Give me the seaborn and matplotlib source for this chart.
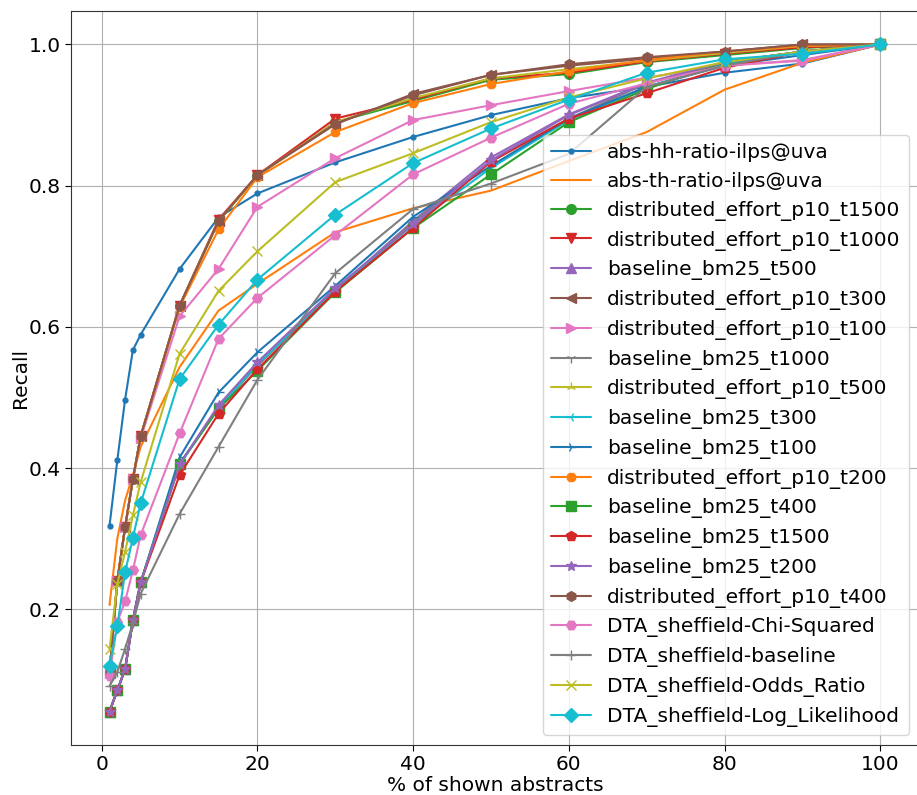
import matplotlib
matplotlib.use("Agg")
import matplotlib.pyplot as plt
import seaborn as sns
import pandas as pd

# ---- data ----
pct_shown = [1, 2, 3, 4, 5, 10, 15, 20, 30, 40, 50, 60, 70, 80, 90, 100]

series_names = [
    "abs-hh-ratio-ilps@uva",
    "abs-th-ratio-ilps@uva",
    "distributed_effort_p10_t1500",
    "distributed_effort_p10_t1000",
    "baseline_bm25_t500",
    "distributed_effort_p10_t300",
    "distributed_effort_p10_t100",
    "baseline_bm25_t1000",
    "distributed_effort_p10_t500",
    "baseline_bm25_t300",
    "baseline_bm25_t100",
    "distributed_effort_p10_t200",
    "baseline_bm25_t400",
    "baseline_bm25_t1500",
    "baseline_bm25_t200",
    "distributed_effort_p10_t400",
    "DTA_sheffield-Chi-Squared",
    "DTA_sheffield-baseline",
    "DTA_sheffield-Odds_Ratio",
    "DTA_sheffield-Log_Likelihood",
]

abs_hh_ratio = [0.318, 0.411, 0.497, 0.567, 0.589, 0.682, 0.755, 0.789, 0.833, 0.869, 0.900, 0.924, 0.940, 0.960, 0.973, 1.0]
abs_th_ratio = [0.206, 0.300, 0.354, 0.390, 0.430, 0.543, 0.623, 0.661, 0.734, 0.768, 0.793, 0.835, 0.876, 0.936, 0.974, 1.0]
de_t1500 = [0.110, 0.240, 0.316, 0.384, 0.445, 0.630, 0.750, 0.814, 0.890, 0.920, 0.950, 0.958, 0.975, 0.985, 0.995, 1.0]
de_t1000 = [0.110, 0.240, 0.316, 0.384, 0.445, 0.630, 0.752, 0.815, 0.895, 0.922, 0.952, 0.960, 0.976, 0.987, 0.996, 1.0]
bm25_t500 = [0.055, 0.085, 0.115, 0.184, 0.238, 0.406, 0.487, 0.548, 0.652, 0.750, 0.840, 0.901, 0.946, 0.975, 0.990, 1.0]
de_t300 = [0.110, 0.240, 0.316, 0.384, 0.445, 0.630, 0.750, 0.815, 0.887, 0.930, 0.957, 0.970, 0.980, 0.990, 1.000, 1.0]
de_t100 = [0.110, 0.240, 0.316, 0.384, 0.442, 0.615, 0.682, 0.770, 0.839, 0.893, 0.914, 0.934, 0.953, 0.970, 0.978, 1.0]
bm25_t1000 = [0.055, 0.085, 0.115, 0.184, 0.238, 0.405, 0.485, 0.545, 0.652, 0.748, 0.835, 0.895, 0.945, 0.975, 0.990, 1.0]
de_t500 = [0.110, 0.240, 0.316, 0.384, 0.445, 0.630, 0.750, 0.814, 0.890, 0.924, 0.952, 0.965, 0.977, 0.988, 0.998, 1.0]
bm25_t300 = [0.055, 0.085, 0.115, 0.184, 0.238, 0.405, 0.485, 0.547, 0.650, 0.745, 0.825, 0.893, 0.940, 0.972, 0.990, 1.0]
bm25_t100 = [0.055, 0.085, 0.115, 0.184, 0.238, 0.415, 0.507, 0.564, 0.658, 0.756, 0.828, 0.895, 0.940, 0.970, 0.985, 1.0]
de_t200 = [0.110, 0.240, 0.316, 0.384, 0.445, 0.628, 0.738, 0.812, 0.876, 0.917, 0.944, 0.962, 0.978, 0.990, 0.998, 1.0]
bm25_t400 = [0.055, 0.085, 0.115, 0.184, 0.238, 0.406, 0.484, 0.538, 0.649, 0.740, 0.816, 0.890, 0.937, 0.975, 0.990, 1.0]
bm25_t1500 = [0.055, 0.085, 0.115, 0.184, 0.238, 0.390, 0.477, 0.540, 0.650, 0.740, 0.834, 0.895, 0.931, 0.967, 0.990, 1.0]
bm25_t200 = [0.055, 0.085, 0.115, 0.184, 0.238, 0.405, 0.489, 0.550, 0.655, 0.745, 0.836, 0.900, 0.945, 0.975, 0.990, 1.0]
de_t400 = [0.110, 0.240, 0.316, 0.384, 0.445, 0.630, 0.750, 0.815, 0.888, 0.928, 0.957, 0.972, 0.982, 0.990, 1.000, 1.0]
dta_chi_squared = [0.106, 0.182, 0.211, 0.255, 0.305, 0.449, 0.583, 0.641, 0.730, 0.816, 0.868, 0.916, 0.945, 0.970, 0.977, 1.0]
dta_baseline = [0.091, 0.111, 0.144, 0.180, 0.222, 0.335, 0.430, 0.525, 0.676, 0.767, 0.803, 0.845, 0.940, 0.970, 0.990, 1.0]
dta_odds_ratio = [0.143, 0.236, 0.281, 0.333, 0.380, 0.562, 0.651, 0.707, 0.805, 0.846, 0.890, 0.925, 0.952, 0.975, 0.990, 1.0]
dta_log_likelihood = [0.120, 0.176, 0.252, 0.301, 0.350, 0.526, 0.603, 0.667, 0.759, 0.832, 0.881, 0.922, 0.960, 0.979, 0.987, 1.0]

series_values = [
    abs_hh_ratio, abs_th_ratio, de_t1500, de_t1000, bm25_t500, de_t300, de_t100,
    bm25_t1000, de_t500, bm25_t300, bm25_t100, de_t200, bm25_t400, bm25_t1500,
    bm25_t200, de_t400, dta_chi_squared, dta_baseline, dta_odds_ratio, dta_log_likelihood,
]

x_label = "% of shown abstracts"
y_label = "Recall"
x_ticks = [0, 20, 40, 60, 80, 100]
y_ticks = [0.2, 0.4, 0.6, 0.8, 1.0]

# ---- styling ----
markers = [".", ",", "o", "v", "^", "<", ">", "1", "2", "3", "4", "8",
           "s", "p", "*", "h", "H", "+", "x", "D"]
tab10 = ["#1f77b4", "#ff7f0e", "#2ca02c", "#d62728", "#9467bd",
         "#8c564b", "#e377c2", "#7f7f7f", "#bcbd22", "#17becf"]

sns.set_style("ticks", {"axes.grid": True, "grid.color": "#b0b0b0",
                        "axes.edgecolor": "#333333"})
plt.rcParams["font.family"] = ["DejaVu Sans"]
plt.rcParams["font.size"] = 14.5
plt.rcParams["grid.linewidth"] = 0.8
plt.rcParams["text.color"] = "black"
plt.rcParams["axes.labelcolor"] = "black"
plt.rcParams["xtick.color"] = "black"
plt.rcParams["ytick.color"] = "black"

fig, ax = plt.subplots(figsize=(9.17, 7.95), dpi=100)
fig.subplots_adjust(left=0.0774, right=1.002, bottom=0.063, top=0.986)

for i, (name, vals) in enumerate(zip(series_names, series_values)):
    df = pd.DataFrame({"pct": pct_shown, "recall": vals})
    c = tab10[i % 10]
    sns.lineplot(data=df, x="pct", y="recall", ax=ax, color=c,
                 marker=markers[i], markersize=7, markeredgecolor=c,
                 markeredgewidth=1.0, linewidth=1.5, label=name)

ax.set_xticks(x_ticks)
ax.set_yticks(y_ticks)
ax.tick_params(labelsize=14.5, length=4)
ax.set_xlabel(x_label, fontsize=14.5, labelpad=1)
ax.set_ylabel(y_label, fontsize=14.5, labelpad=-1)
ax.margins(x=0.05, y=0.05)
ax.legend(loc="lower right", fontsize=14.5, labelspacing=0.485)

fig.savefig("out.png", dpi=100)
